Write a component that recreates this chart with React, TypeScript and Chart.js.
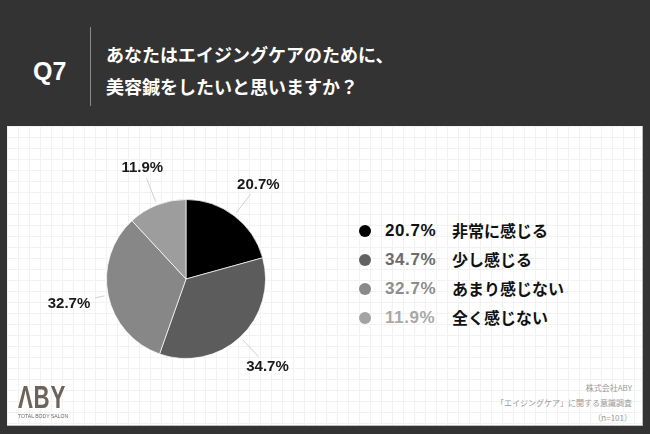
import React, { useEffect, useRef } from "react";
import { Chart, registerables } from "chart.js";
Chart.register(...registerables);

const categories = ["非常に感じる", "少し感じる", "あまり感じない", "全く感じない"];
const values = [20.7, 34.7, 32.7, 11.9];
const sliceColors = ["#000000", "#5c5c5c", "#878787", "#9d9d9d"];
const legendDotColors = ["#000000", "#626262", "#8a8a8a", "#a3a3a3"];
const legendTextColors = ["#111111", "#6b6b6b", "#8d8d8d", "#a9a9a9"];
const questionNo = "Q7";
const titleLines = ["あなたはエイジングケアのために、", "美容鍼をしたいと思いますか？"];
const sourceLines = ["株式会社ABY", "「エイジングケア」に関する意識調査", "（n=101）"];

const LATIN = "'Liberation Sans', Arial, Helvetica, sans-serif";
const CJK = "'Noto Sans CJK JP', 'Noto Sans', sans-serif";

const labelPlugin = {
  id: "outLabels",
  afterDatasetsDraw(chart: any) {
    const ctx = chart.ctx;
    const meta = chart.getDatasetMeta(0);
    ctx.save();
    ctx.font = `bold 15px ${LATIN}`;
    ctx.textAlign = "center";
    ctx.textBaseline = "middle";
    meta.data.forEach((arc: any, i: number) => {
      const p = arc.getProps(["x", "y", "startAngle", "endAngle", "outerRadius"], true);
      const mid = (p.startAngle + p.endAngle) / 2;
      const dx = Math.cos(mid);
      const dy = Math.sin(mid);
      const text = values[i].toFixed(1) + "%";
      const w = ctx.measureText(text).width;
      const h = 12;
      const dist = p.outerRadius + 40;
      const cx = p.x + dx * dist;
      const cy = p.y + dy * dist;
      const t = Math.min(
        w / 2 / Math.max(Math.abs(dx), 1e-6),
        h / 2 / Math.max(Math.abs(dy), 1e-6)
      );
      const r0 = p.outerRadius + 3.5;
      const r1 = dist - t - 5;
      ctx.strokeStyle = "#d0d0d0";
      ctx.lineWidth = 1;
      ctx.beginPath();
      ctx.moveTo(p.x + dx * r0, p.y + dy * r0);
      ctx.lineTo(p.x + dx * r1, p.y + dy * r1);
      ctx.stroke();
      ctx.fillStyle = "#1a1a1a";
      ctx.fillText(text, cx, cy + 0.5);
    });
    ctx.restore();
  },
};

function PieChart() {
  const ref = useRef<HTMLCanvasElement | null>(null);
  useEffect(() => {
    if (!ref.current) return;
    const chart = new Chart(ref.current, {
      type: "pie",
      data: {
        labels: categories,
        datasets: [
          {
            data: values,
            backgroundColor: sliceColors,
            borderColor: "rgba(255,255,255,0.7)",
            borderWidth: 1,
          },
        ],
      },
      options: {
        animation: false,
        responsive: false,
        maintainAspectRatio: false,
        devicePixelRatio: 1,
        layout: { padding: { left: 106, right: 64, top: 73, bottom: 66 } },
        plugins: { legend: { display: false }, tooltip: { enabled: false } },
      },
      plugins: [labelPlugin],
    } as any);
    return () => chart.destroy();
  }, []);
  return (
    <canvas
      ref={ref}
      width={330}
      height={299}
      style={{ position: "absolute", left: 0, top: 126, width: 330, height: 299 }}
    />
  );
}

export default function App() {
  return (
    <div
      style={{
        position: "fixed",
        left: 0,
        top: 0,
        width: 650,
        height: 434,
        background: "#333333",
        overflow: "hidden",
      }}
    >
      {/* header */}
      <div
        style={{
          position: "absolute",
          left: 33,
          top: 58,
          height: 26,
          lineHeight: "26px",
          fontFamily: LATIN,
          fontWeight: "bold",
          fontSize: 25,
          color: "#ffffff",
        }}
      >
        {questionNo}
      </div>
      <div style={{ position: "absolute", left: 90, top: 27, width: 1, height: 79, background: "#8a8a8a" }} />
      {titleLines.map((t, i) => (
        <div
          key={i}
          style={{
            position: "absolute",
            left: 106,
            top: 44 + i * 32,
            height: 20,
            lineHeight: "20px",
            fontFamily: CJK,
            fontWeight: "bold",
            fontSize: 18,
            color: "#ffffff",
            whiteSpace: "nowrap",
          }}
        >
          {t}
        </div>
      ))}

      {/* white panel */}
      <div
        style={{
          position: "absolute",
          left: 7,
          top: 126,
          width: 635,
          height: 299,
          background: "#ffffff",
          backgroundImage:
            "linear-gradient(#f2f2f2 1px, transparent 1px), linear-gradient(90deg, #f2f2f2 1px, transparent 1px)",
          backgroundSize: "11px 11px",
          borderRight: "1px solid #bdbdbd",
          borderBottom: "1px solid #bdbdbd",
        }}
      />

      <PieChart />

      {/* legend */}
      {categories.map((c, i) => {
        const cy = 230.5 + i * 29.2;
        return (
          <React.Fragment key={c}>
            <div
              style={{
                position: "absolute",
                left: 359,
                top: cy - 6,
                width: 12,
                height: 12,
                borderRadius: "50%",
                background: legendDotColors[i],
              }}
            />
            <div
              style={{
                position: "absolute",
                left: 385,
                top: cy - 10,
                height: 20,
                lineHeight: "20px",
                fontFamily: LATIN,
                fontWeight: "bold",
                fontSize: 17,
                letterSpacing: 0.6,
                color: legendTextColors[i],
                whiteSpace: "nowrap",
              }}
            >
              {values[i].toFixed(1)}%
            </div>
            <div
              style={{
                position: "absolute",
                left: 452,
                top: cy - 11,
                height: 20,
                lineHeight: "20px",
                fontFamily: CJK,
                fontWeight: "bold",
                fontSize: 16,
                color: "#111111",
                whiteSpace: "nowrap",
              }}
            >
              {c}
            </div>
          </React.Fragment>
        );
      })}

      {/* logo */}
      <div
        style={{
          position: "absolute",
          left: 18,
          top: 383,
          height: 30,
          lineHeight: "30px",
          fontFamily: LATIN,
          fontWeight: "bold",
          fontSize: 31,
          color: "#6e635b",
          transform: "scaleX(0.72)",
          transformOrigin: "left center",
          whiteSpace: "nowrap",
          letterSpacing: 1,
        }}
      >
        ΛBY
      </div>
      <div
        style={{
          position: "absolute",
          left: 18,
          top: 413,
          height: 7,
          lineHeight: "7px",
          fontFamily: LATIN,
          fontSize: 6,
          color: "#6e635b",
          whiteSpace: "nowrap",
          transform: "scaleX(0.85)",
          transformOrigin: "left center",
        }}
      >
        TOTAL BODY SALON
      </div>

      {/* source */}
      {sourceLines.map((s, i) => (
        <div
          key={i}
          style={{
            position: "absolute",
            right: 650 - 632,
            top: 382 + i * 15,
            height: 12,
            lineHeight: "12px",
            fontFamily: CJK,
            fontSize: 8,
            color: "#9a9a9a",
            whiteSpace: "nowrap",
            textAlign: "right",
          }}
        >
          {s}
        </div>
      ))}
    </div>
  );
}
